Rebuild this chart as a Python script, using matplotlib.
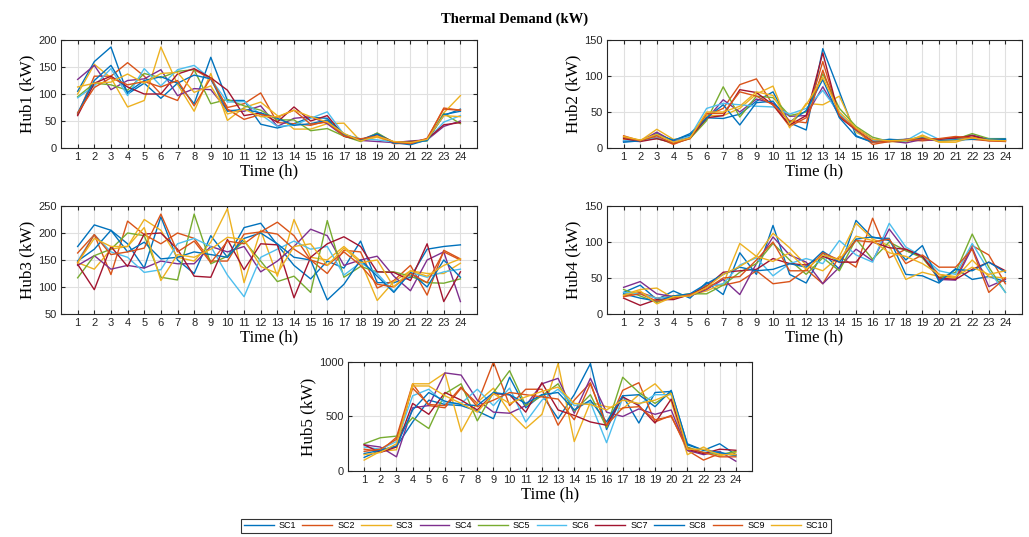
import matplotlib.pyplot as plt
import numpy as np

hours = np.arange(1, 25)
scenarios = ['SC1', 'SC2', 'SC3', 'SC4', 'SC5', 'SC6', 'SC7', 'SC8', 'SC9', 'SC10']

hub1 = [
    [105,160,187,100,120,92,120,82,168,88,88,44,37,45,57,55,25,15,27,10,6,15,60,72],
    [62,133,133,158,133,100,88,145,128,75,82,102,47,45,42,50,22,15,22,8,9,16,74,70],
    [100,155,130,76,88,187,118,68,138,51,75,85,60,35,35,45,46,13,20,10,10,14,65,97],
    [127,153,108,125,128,145,97,110,108,70,68,78,40,55,58,45,22,14,12,10,13,15,40,50],
    [95,120,117,107,138,130,142,145,82,90,78,70,52,52,32,36,22,12,28,10,12,13,64,45],
    [93,115,147,97,147,115,145,153,128,85,86,62,40,42,55,67,25,17,15,11,10,14,48,60],
    [60,120,133,113,100,100,137,147,130,107,60,65,48,76,50,60,22,15,25,11,11,16,43,47],
    [65,125,153,103,125,132,120,135,128,68,72,65,55,42,45,52,26,14,26,9,9,14,62,68],
    [65,112,130,117,123,113,125,78,130,72,53,62,57,70,44,48,22,17,22,11,8,18,72,70],
    [113,120,122,137,120,138,140,103,115,63,72,58,58,70,58,48,27,13,22,12,10,16,60,58],
]
hub2 = [
    [9,10,20,10,20,42,41,47,65,78,35,25,138,78,17,8,11,12,14,12,12,13,13,13],
    [17,10,15,5,14,45,55,88,96,60,30,42,120,45,25,5,9,11,10,12,15,12,10,9],
    [12,10,26,12,13,45,45,55,75,86,28,62,60,72,22,10,9,8,18,8,8,15,11,10],
    [10,9,22,9,15,40,67,50,68,62,44,45,85,45,28,12,10,7,12,10,13,18,12,11],
    [14,11,13,7,13,38,85,43,72,70,45,50,103,55,30,15,9,10,14,11,12,20,13,12],
    [10,10,14,8,16,55,62,60,58,57,47,55,80,48,24,10,12,10,23,12,11,13,12,11],
    [13,9,13,7,14,42,45,81,77,60,32,45,132,43,25,9,9,12,13,12,14,17,11,10],
    [8,10,18,11,18,42,60,32,63,65,36,52,95,42,16,8,12,11,15,10,11,12,12,12],
    [15,10,17,6,13,48,48,78,72,60,38,35,108,45,26,8,9,11,12,13,16,14,10,10],
    [16,11,19,8,14,50,50,58,78,73,33,60,98,50,28,12,10,11,16,9,10,14,11,10],
]
hub3 = [
    [175,215,205,180,135,230,150,125,195,155,210,218,178,140,115,148,135,185,108,108,118,170,175,178],
    [163,197,123,222,197,180,200,190,148,148,198,202,220,195,150,125,168,165,98,112,140,85,168,152],
    [145,133,170,175,225,205,155,148,183,245,108,205,120,225,155,150,175,148,75,110,130,125,125,144],
    [140,158,133,140,135,148,143,143,175,165,175,128,148,175,207,195,140,150,157,120,93,150,165,73],
    [117,158,170,200,195,118,113,235,143,157,185,148,110,120,90,223,118,138,128,128,120,108,107,115],
    [148,197,165,155,127,132,180,190,175,122,82,155,170,185,170,175,122,145,125,92,127,118,128,133],
    [142,95,175,138,198,200,170,120,118,188,132,180,178,80,155,180,193,175,128,127,112,180,73,128],
    [148,170,205,165,183,152,155,165,160,155,190,200,180,155,150,76,105,150,120,90,127,100,150,118],
    [145,197,160,165,172,235,165,185,145,185,180,203,198,170,150,140,165,140,105,100,125,108,165,150],
    [145,190,175,175,210,112,160,155,170,192,188,138,125,175,180,140,172,145,150,100,130,120,140,152],
]
hub4 = [
    [30,40,20,32,22,44,27,85,55,123,55,43,85,62,130,106,105,55,53,43,63,48,52,45],
    [25,30,22,25,25,40,40,45,60,42,45,62,42,80,65,133,78,90,80,55,50,95,82,42],
    [27,34,36,22,26,32,42,98,80,112,92,68,60,80,126,104,95,48,58,52,50,75,52,50],
    [37,45,28,24,25,34,48,27,70,107,82,72,42,65,90,74,118,88,80,48,47,92,38,48],
    [34,25,16,25,28,28,40,58,70,98,75,55,78,60,104,76,100,88,78,50,58,111,65,30],
    [30,28,22,24,27,38,42,68,78,53,70,77,70,102,82,72,126,93,80,60,55,98,60,30],
    [22,12,20,20,27,38,58,60,62,77,70,68,80,72,72,100,92,90,80,50,48,62,72,60],
    [28,22,18,25,28,42,55,65,60,62,70,65,87,72,104,107,102,75,95,45,62,60,72,58],
    [24,28,18,22,27,35,50,52,75,100,60,60,85,75,102,100,104,70,82,65,65,90,30,50],
    [26,32,14,24,25,37,55,66,80,73,85,62,82,75,108,102,85,80,70,55,52,65,55,60],
]
hub5 = [
    [125,190,225,450,650,610,600,550,480,860,580,700,480,700,985,380,690,440,720,730,250,190,250,150],
    [200,180,310,800,600,580,760,620,1000,600,750,750,420,650,810,400,740,810,450,510,190,100,160,150],
    [100,180,195,800,800,900,360,630,760,540,390,520,985,270,630,590,570,700,800,640,150,220,140,170],
    [240,220,130,580,600,900,880,650,540,530,600,800,850,530,850,540,500,570,520,560,190,150,180,90],
    [250,305,320,490,390,710,800,460,720,920,600,690,800,550,700,400,860,720,620,720,220,170,150,180],
    [220,200,270,690,750,620,620,750,600,760,450,650,750,600,630,260,670,610,700,700,200,170,170,140],
    [240,170,220,620,520,720,650,560,710,700,540,810,560,510,450,420,680,600,440,660,200,160,200,190],
    [160,190,230,560,720,640,610,600,720,700,620,700,720,560,650,450,690,700,590,740,240,190,170,140],
    [180,200,290,760,610,600,770,590,650,720,700,680,660,470,800,420,580,590,470,500,210,170,130,130],
    [150,170,250,780,780,690,620,540,710,620,680,730,770,620,610,560,650,620,650,710,200,200,150,150],
]

colors = ['#0072BD', '#D95319', '#EDB120', '#7E2F8E', '#77AC30',
          '#4DBEEE', '#A2142F', '#0072BD', '#D95319', '#EDB120']

serif = ['Liberation Serif', 'DejaVu Serif']
plt.rcParams['font.family'] = ['Liberation Sans', 'DejaVu Sans']

fig = plt.figure(figsize=(10.29, 5.37), dpi=100)

panels = [
    ('Hub1 (kW)', hub1, (0, 200), [0, 50, 100, 150, 200], [0.0593, 0.7244, 0.4043, 0.2011]),
    ('Hub2 (kW)', hub2, (0, 150), [0, 50, 100, 150], [0.5899, 0.7244, 0.4033, 0.2011]),
    ('Hub3 (kW)', hub3, (50, 250), [50, 100, 150, 200, 250], [0.0593, 0.4153, 0.4043, 0.2011]),
    ('Hub4 (kW)', hub4, (0, 150), [0, 50, 100, 150], [0.5899, 0.4153, 0.4033, 0.2011]),
    ('Hub5 (kW)', hub5, (0, 1000), [0, 500, 1000], [0.3382, 0.1229, 0.3926, 0.2030]),
]

lines = []
for ylabel, data, ylim, yticks, pos in panels:
    ax = fig.add_axes(pos)
    for i, series in enumerate(data):
        ln, = ax.plot(hours, series, color=colors[i], lw=1.0, label=scenarios[i])
        if ylabel == 'Hub1 (kW)':
            lines.append(ln)
    ax.set_xlim(0, 25)
    ax.set_ylim(*ylim)
    ax.set_xticks(hours)
    ax.set_yticks(yticks)
    ax.grid(True, color='#e0e0e0', lw=0.8)
    ax.set_axisbelow(True)
    ax.tick_params(direction='in', length=3, labelsize=8, colors='#262626',
                   top=True, right=True, pad=3)
    for sp in ax.spines.values():
        sp.set_color('#262626')
        sp.set_linewidth(0.8)
    ax.set_xlabel('Time (h)', family=serif, fontsize=12, labelpad=1)
    ax.set_ylabel(ylabel, family=serif, fontsize=12.3, labelpad=2)

fig.text(0.5, 0.964, 'Thermal Demand (kW)', ha='center', va='center',
         family=serif, fontsize=10.5, fontweight='bold')

leg = fig.legend(lines, scenarios, loc='center', bbox_to_anchor=(0.521, 0.0205),
                 ncol=10, fontsize=6.5, frameon=True, fancybox=False,
                 handlelength=3.3, handletextpad=0.55, columnspacing=0.7,
                 borderpad=0.3, edgecolor='black')
leg.get_frame().set_linewidth(0.8)

fig.savefig('out.png', dpi=100)
